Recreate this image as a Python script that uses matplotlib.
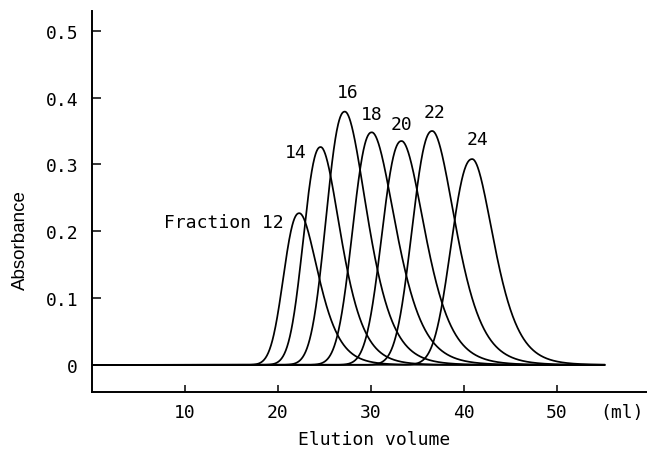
import numpy as np
import matplotlib
matplotlib.use('Agg')
from matplotlib import pyplot as plt

# peaks (elution volume in ml, absorbance)
fractions = [12, 14, 16, 18, 20, 22, 24]
peak_ml = [22.3, 24.6, 27.2, 30.1, 33.3, 36.6, 40.9]
peak_abs = [0.227, 0.326, 0.379, 0.348, 0.335, 0.350, 0.308]
front_width = [1.65, 1.8, 1.95, 2.0, 2.05, 2.1, 2.2]        # leading edge width, ml
back_width = [1.75, 1.85, 2.05, 2.2, 2.15, 2.15, 2.0]       # trailing edge width at the top, ml
tail_spread = [0.13, 0.13, 0.13, 0.13, 0.13, 0.13, 0.13]    # trailing edge broadening
baseline_end = 55.2

x_ticks = [10, 20, 30, 40, 50]
y_ticks = [0, 0.1, 0.2, 0.3, 0.4, 0.5]
y_ticklabels = ['0', '0.1', '0.2', '0.3', '0.4', '0.5']

peak_labels = ['Fraction 12', '14', '16', '18', '20', '22', '24']
label_offset = [(-11.5, -6.5), (-18, -3.6), (2.2, 14.4), (0, 13), (0, 12.5), (1.5, 13.7), (4, 14.4)]
label_ha = ['right', 'center', 'center', 'center', 'center', 'center', 'center']

mono = 'DejaVu Sans Mono'


def peak(x, centre, height, w_front, w_back, spread):
    d = x - centre
    front = np.exp(-0.5 * (np.abs(d) / w_front) ** 2.3)
    wb = w_back + spread * np.clip(d, 0, None)
    back = np.exp(-d ** 2 / (2 * wb ** 2))
    return height * np.where(d < 0, front, back)


fig = plt.figure(figsize=(6.47, 4.6), dpi=100)
ax = fig.add_axes([92 / 647, 1 - 393.3 / 460, 1 - 92 / 647, (393.3 - 11.7) / 460])
ax.set_xlim(0, 59.7)
ax.set_ylim(-0.041, 0.530)

x = np.linspace(0, baseline_end, 1500)
for i in range(len(fractions)):
    y = peak(x, peak_ml[i], peak_abs[i], front_width[i], back_width[i], tail_spread[i])
    ax.plot(x, y, color='black', lw=1.25, solid_capstyle='butt')
    ax.annotate(peak_labels[i], xy=(peak_ml[i], peak_abs[i]), xytext=label_offset[i],
                textcoords='offset points', ha=label_ha[i], va='center',
                fontsize=13, family=mono)

for s in ['top', 'right']:
    ax.spines[s].set_visible(False)
for s in ['left', 'bottom']:
    ax.spines[s].set_linewidth(1.4)

ax.set_xticks(x_ticks)
ax.set_xticklabels([str(t) for t in x_ticks], family=mono, fontsize=13)
ax.set_yticks(y_ticks)
ax.set_yticklabels(y_ticklabels, family=mono, fontsize=13)
ax.tick_params(axis='x', direction='in', length=5, width=1.1, pad=8)
ax.tick_params(axis='y', direction='in', length=6.5, width=1.1, pad=10)

ax.annotate('(ml)', xy=(57, 0), xycoords=('data', 'axes fraction'), xytext=(0, -8),
            textcoords='offset points', ha='center', va='top', fontsize=13, family=mono)

fig.text(0.031, 0.478, 'Absorbance', rotation=90, ha='center', va='center',
         fontsize=13.5, family='Liberation Sans')
fig.text(0.578, 0.043, 'Elution volume', ha='center', va='center', fontsize=13, family=mono)

fig.savefig('out.png', dpi=100)
